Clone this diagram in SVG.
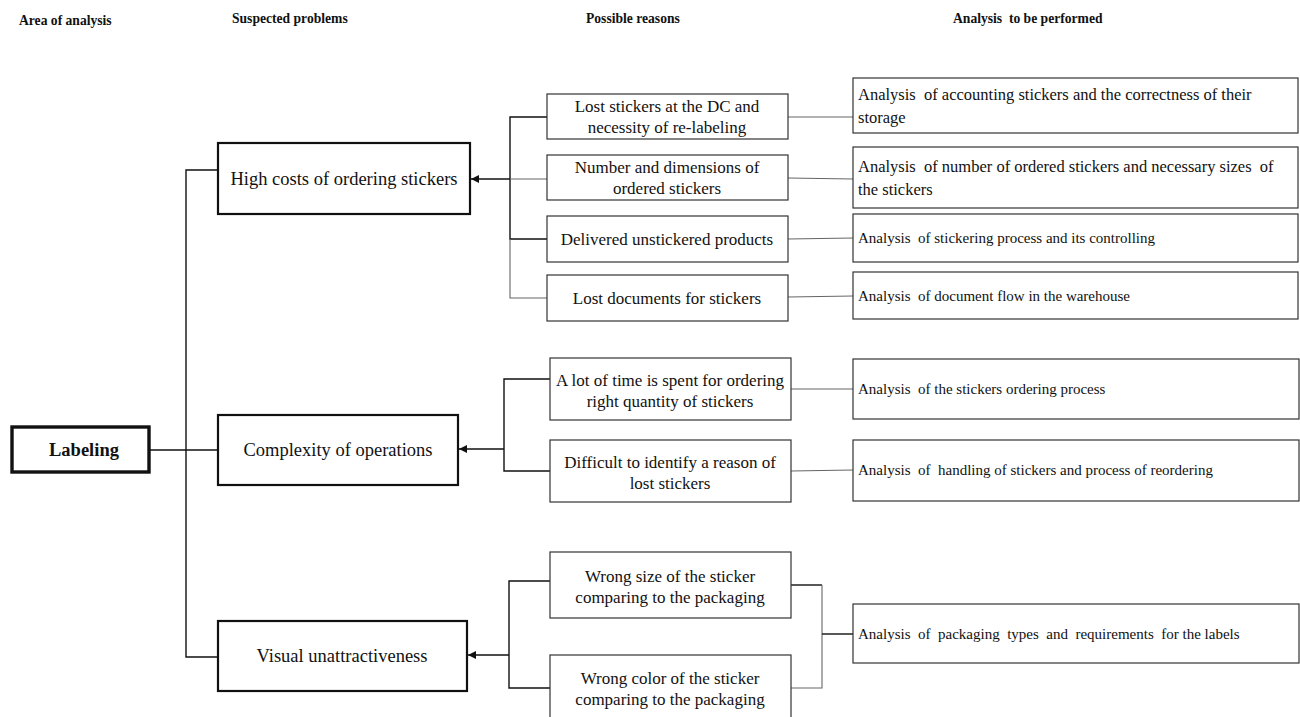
<svg xmlns="http://www.w3.org/2000/svg" width="1300" height="717" viewBox="0 0 1300 717">
  <style>
    text { font-family: "Liberation Serif", "Times New Roman", serif; fill: #111; }
    .hdr { font-size: 13.6px; font-weight: bold; }
    .main { fill: #fff; stroke: #111; stroke-width: 2.2; }
    .root { fill: #fff; stroke: #111; stroke-width: 3.4; }
    .box { fill: #fff; stroke: #333; stroke-width: 1.2; }
    .t-main { font-size: 18.5px; text-anchor: middle; }
    .t-root { font-size: 18.5px; font-weight: bold; text-anchor: middle; }
    .t-reason { font-size: 17px; text-anchor: middle; }
    .t-an { font-size: 16.5px; white-space: pre; }
    .t-an-s { font-size: 15px; white-space: pre; }
    .ln { fill: none; stroke: #111; stroke-width: 1.4; }
    .ln-thin { fill: none; stroke: #666; stroke-width: 1.1; }
  </style>
  <defs>
    <marker id="arrow" viewBox="0 0 10 10" refX="10" refY="5" markerWidth="8" markerHeight="8" markerUnits="userSpaceOnUse" orient="auto">
      <path d="M0,0 L10,5 L0,10 z" fill="#111"/>
    </marker>
  </defs>

  <!-- Column headers -->
  <g id="headers">
    <text class="hdr" x="19" y="25">Area of analysis</text>
    <text class="hdr" x="232" y="23">Suspected problems</text>
    <text class="hdr" x="586" y="23">Possible reasons</text>
    <text class="hdr" x="953" y="23" style="white-space:pre">Analysis  to be performed</text>
  </g>

  <!-- Connectors -->
  <g id="connectors">
    <!-- root to problems -->
    <path class="ln" d="M150,450 H218"/>
    <path class="ln" d="M218,170 H186 V657 H218"/>
    <!-- group 1: reasons to "High costs" -->
    <path class="ln" d="M547,117 H510 V239 H547"/>
    <path class="ln-thin" d="M510,239 V298 H547"/>
    <path class="ln-thin" d="M547,179 H510"/>
    <path class="ln" d="M510,179 H471" marker-end="url(#arrow)"/>
    <!-- group 1: reasons to analyses -->
    <path class="ln-thin" d="M788,117 H853"/>
    <path class="ln-thin" d="M788,178 L853,179"/>
    <path class="ln-thin" d="M788,239 L853,238"/>
    <path class="ln-thin" d="M788,297 L853,296"/>
    <!-- group 2 -->
    <path class="ln" d="M550,379 H504 V471 H550"/>
    <path class="ln" d="M504,449 H459" marker-end="url(#arrow)"/>
    <path class="ln-thin" d="M791,389 H853"/>
    <path class="ln-thin" d="M791,471 L853,470"/>
    <!-- group 3 -->
    <path class="ln" d="M550,581 H509 V688 H550"/>
    <path class="ln" d="M509,655 H468" marker-end="url(#arrow)"/>
    <path class="ln" d="M791,585 H822"/>
    <path class="ln-thin" d="M822,585 V688 H791"/>
    <path class="ln" d="M822,634 H853"/>
  </g>

  <!-- Area of analysis -->
  <g id="labeling">
    <rect class="root" x="12" y="427" width="137" height="45"/>
    <text class="t-root" x="84" y="456">Labeling</text>
  </g>

  <!-- Suspected problems -->
  <g id="high-costs">
    <rect class="main" x="218" y="143" width="252" height="71"/>
    <text class="t-main" x="344" y="185">High costs of ordering stickers</text>
  </g>
  <g id="complexity">
    <rect class="main" x="218" y="415" width="240" height="70"/>
    <text class="t-main" x="338" y="456">Complexity of operations</text>
  </g>
  <g id="visual">
    <rect class="main" x="218" y="621" width="249" height="70"/>
    <text class="t-main" x="342" y="662">Visual unattractiveness</text>
  </g>

  <!-- Possible reasons -->
  <g id="reason-lost-stickers">
    <rect class="box" x="547" y="94" width="241" height="45"/>
    <text class="t-reason" x="667" y="112">Lost stickers at the DC and</text>
    <text class="t-reason" x="667" y="133">necessity of re-labeling</text>
  </g>
  <g id="reason-number">
    <rect class="box" x="547" y="155" width="241" height="45"/>
    <text class="t-reason" x="667" y="173">Number and dimensions of</text>
    <text class="t-reason" x="667" y="194">ordered stickers</text>
  </g>
  <g id="reason-unstickered">
    <rect class="box" x="547" y="216" width="241" height="46"/>
    <text class="t-reason" x="667" y="245">Delivered unstickered products</text>
  </g>
  <g id="reason-documents">
    <rect class="box" x="547" y="275" width="241" height="46"/>
    <text class="t-reason" x="667" y="304">Lost documents for stickers</text>
  </g>
  <g id="reason-time">
    <rect class="box" x="550" y="358" width="241" height="62"/>
    <text class="t-reason" x="670" y="386">A lot of time is spent for ordering</text>
    <text class="t-reason" x="670" y="407">right quantity of stickers</text>
  </g>
  <g id="reason-identify">
    <rect class="box" x="550" y="440" width="241" height="62"/>
    <text class="t-reason" x="670" y="468">Difficult to identify a reason of</text>
    <text class="t-reason" x="670" y="489">lost stickers</text>
  </g>
  <g id="reason-size">
    <rect class="box" x="550" y="552" width="241" height="66"/>
    <text class="t-reason" x="670" y="582">Wrong size of the sticker</text>
    <text class="t-reason" x="670" y="603">comparing to the packaging</text>
  </g>
  <g id="reason-color">
    <rect class="box" x="550" y="655" width="241" height="70"/>
    <text class="t-reason" x="670" y="684">Wrong color of the sticker</text>
    <text class="t-reason" x="670" y="705">comparing to the packaging</text>
  </g>

  <!-- Analyses to be performed -->
  <g id="analysis-accounting">
    <rect class="box" x="853" y="78" width="445" height="55"/>
    <text class="t-an" x="858" y="100">Analysis  of accounting stickers and the correctness of their</text>
    <text class="t-an" x="858" y="123">storage</text>
  </g>
  <g id="analysis-number">
    <rect class="box" x="853" y="147" width="445" height="61"/>
    <text class="t-an" x="858" y="172">Analysis  of number of ordered stickers and necessary sizes  of</text>
    <text class="t-an" x="858" y="195">the stickers</text>
  </g>
  <g id="analysis-stickering">
    <rect class="box" x="853" y="214" width="445" height="48"/>
    <text class="t-an-s" x="858" y="243">Analysis  of stickering process and its controlling</text>
  </g>
  <g id="analysis-documents">
    <rect class="box" x="853" y="272" width="445" height="47"/>
    <text class="t-an-s" x="858" y="301">Analysis  of document flow in the warehouse</text>
  </g>
  <g id="analysis-ordering">
    <rect class="box" x="853" y="359" width="446" height="60"/>
    <text class="t-an-s" x="858" y="394">Analysis  of the stickers ordering process</text>
  </g>
  <g id="analysis-handling">
    <rect class="box" x="853" y="440" width="446" height="61"/>
    <text class="t-an-s" x="858" y="475">Analysis  of  handling of stickers and process of reordering</text>
  </g>
  <g id="analysis-packaging">
    <rect class="box" x="853" y="604" width="446" height="59"/>
    <text class="t-an-s" x="858" y="639">Analysis  of  packaging  types  and  requirements  for the labels</text>
  </g>
</svg>
